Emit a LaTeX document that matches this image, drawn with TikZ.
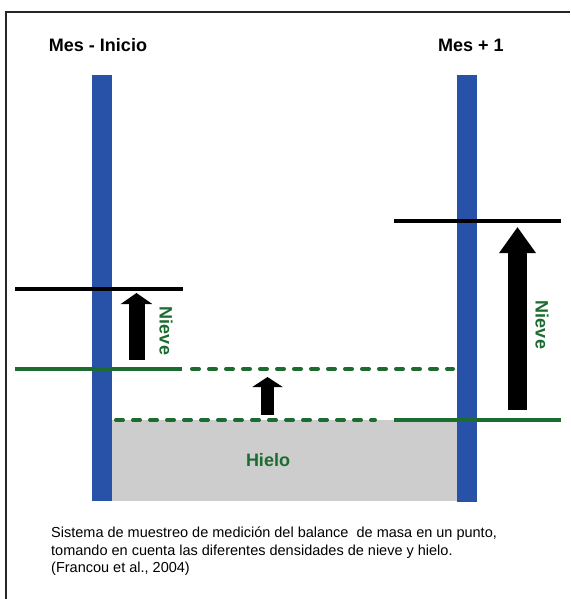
\documentclass[tikz,border=0pt]{standalone}
\usepackage{fontspec}
\setmainfont{Liberation Sans}
\usetikzlibrary{arrows.meta}
\definecolor{stakeblue}{RGB}{40,82,168}
\definecolor{snowgreen}{RGB}{28,108,48}
\definecolor{icegray}{RGB}{205,205,205}

\begin{document}
\begin{tikzpicture}[x=1pt,y=-1pt,>=Triangle]
    \tikzstyle{every node}=[font=\fontsize{18}{21}\selectfont\bfseries, inner sep=0pt]
    \tikzstyle{stake}=[fill=stakeblue]
    \tikzstyle{surface}=[line width=4pt]
    \tikzstyle{oldsurface}=[line width=4pt, snowgreen, dash pattern=on 7pt off 10pt, line cap=round]

    \useasboundingbox (0,0) rectangle (570,599);
    \draw[line width=1.3pt, black!85] (6,599) -- (6,12) -- (570,12);

    \fill[icegray] (112,420) rectangle (457,501);

    \fill[stake] (92,75) rectangle (112,501);
    \fill[stake] (457,75) rectangle (477,502);

    \node (inicio) at (98,45) {Mes - Inicio};
    \node (mes1) at (471,45) {Mes + 1};

    \draw[surface] (15,289) -- (183,289);
    \draw[surface, snowgreen] (15,369) -- (182,369);
    \draw[oldsurface] (192,369) -- (453,369);
    \draw[oldsurface] (116,420) -- (375,420);

    \draw[surface] (394,221) -- (561,221);
    \draw[surface, snowgreen] (394,420) -- (561,420);

    \draw[line width=16pt, -{Triangle[length=11pt,width=31pt]}] (136.5,360) -- (136.5,293);
    \draw[line width=13pt, -{Triangle[length=10pt,width=30pt]}] (267.5,415) -- (267.5,377);
    \draw[line width=19pt, -{Triangle[length=26pt,width=35pt]}] (517.5,410) -- (517.5,227);

    \node[snowgreen, rotate=-90] (nieve1) at (166,331) {Nieve};
    \node[snowgreen, rotate=-90] (nieve2) at (542,325) {Nieve};
    \node[snowgreen] (hielo) at (268,460) {Hielo};

    \node[anchor=north west, align=left, font=\fontsize{14.5}{17.5}\selectfont] (nota) at (51,527)
    {Sistema de muestreo de medición del balance\ \ de masa en un punto,\\
     tomando en cuenta las diferentes densidades de nieve y hielo.\\
     (Francou et al., 2004)};
\end{tikzpicture}
\end{document}
